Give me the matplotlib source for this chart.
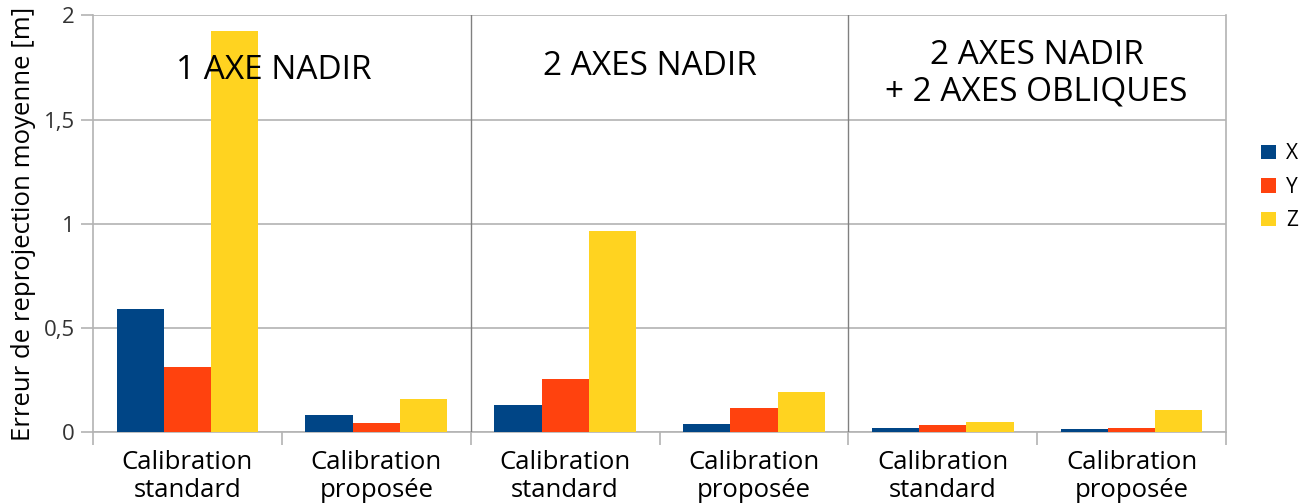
import matplotlib
matplotlib.use('Agg')
from matplotlib import pyplot as plt
from matplotlib.ticker import FixedLocator
import numpy as np

categories = ['Calibration\nstandard', 'Calibration\nproposée'] * 3
series_names = ['X', 'Y', 'Z']
x_vals = [0.587, 0.081, 0.126, 0.036, 0.017, 0.012]
y_vals = [0.309, 0.039, 0.254, 0.113, 0.030, 0.017]
z_vals = [1.927, 0.156, 0.964, 0.191, 0.046, 0.103]
group_titles = ['1 AXE NADIR', '2 AXES NADIR', '2 AXES NADIR\n+ 2 AXES OBLIQUES']
y_ticks = [0, 0.5, 1, 1.5, 2]
y_tick_labels = ['0', '0,5', '1', '1,5', '2']

COLORS = ['#004586', '#ff420e', '#ffd320']

matplotlib.rcParams.update({
    'font.family': ['Open Sans', 'DejaVu Sans'],
})

fig = plt.figure(figsize=(13.12, 5.03), dpi=100)
ax = fig.add_axes([0.0709, 0.1421, 0.9345 - 0.0709, 0.9692 - 0.1421])

idx = np.arange(len(categories))
width = 0.25
handles = []
for k, (vals, name, color) in enumerate(zip([x_vals, y_vals, z_vals], series_names, COLORS)):
    h = ax.bar(idx + (k - 1) * width, vals, width, color=color, label=name, zorder=3)
    handles.append(h)

ax.set_xlim(-0.5, len(categories) - 0.5)
ax.set_ylim(0, 2)
ax.set_yticks(y_ticks)
ax.set_yticklabels(y_tick_labels)
ax.yaxis.grid(True, color='#b3b3b3', linewidth=1.2, zorder=0)

# category labels between ticks, tick marks on boundaries
ax.set_xticks(idx)
ax.set_xticklabels(categories, fontsize=18.5, linespacing=1.2)
ax.tick_params(axis='x', length=0, pad=13)
ax.xaxis.set_minor_locator(FixedLocator(np.arange(-0.5, len(categories), 1)))
ax.tick_params(axis='x', which='minor', length=9, color='#b3b3b3', width=1.2)
ax.tick_params(axis='y', length=9, color='#b3b3b3', width=1.2, labelsize=16,
               labelcolor='#333333', pad=4)

ax.spines['top'].set_visible(False)
for side in ['left', 'right', 'bottom']:
    ax.spines[side].set_color('#b3b3b3')
    ax.spines[side].set_linewidth(1.2)

# group separators
for xs in [1.5, 3.5]:
    ax.axvline(xs, color='#808080', linewidth=1.0, zorder=4)

# group titles
title_pos = [(0.456, 1.735), (2.451, 1.755), (4.497, 1.72)]
for (tx, ty), title in zip(title_pos, group_titles):
    ax.text(tx, ty, title, ha='center', va='center', fontsize=24,
            linespacing=1.15, zorder=5)

ax.set_ylabel('Erreur de reprojection moyenne [m]', fontsize=18.5, labelpad=6)

fig.legend(handles, series_names, loc='center left',
           bbox_to_anchor=(0.947, 0.628), frameon=False, fontsize=15,
           handlelength=0.7, handleheight=0.7, handletextpad=0.5,
           labelspacing=0.6)

fig.savefig('out.png', dpi=100)
